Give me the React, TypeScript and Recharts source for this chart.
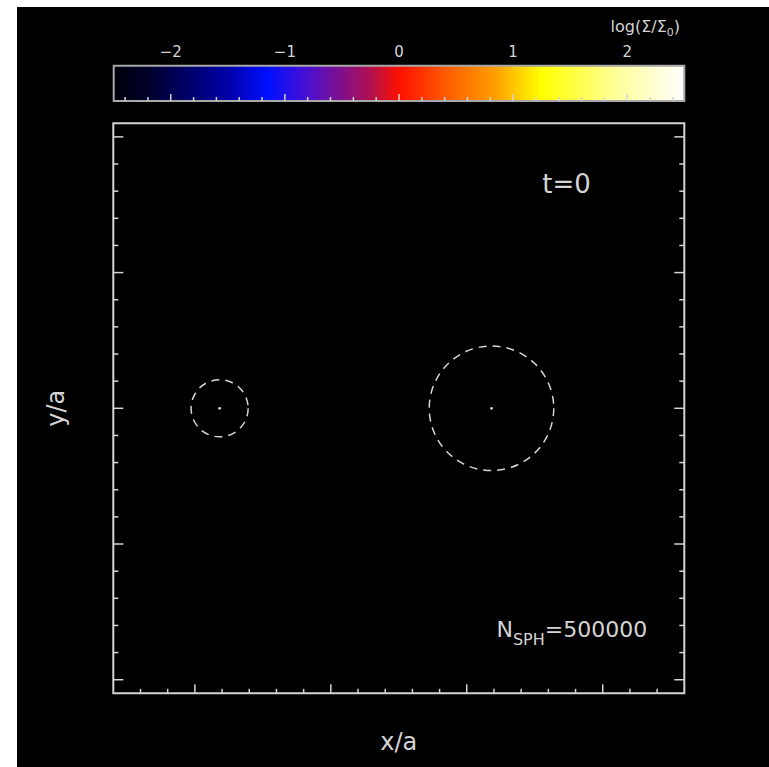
import {
  ScatterChart,
  Scatter,
  XAxis,
  YAxis,
  ReferenceArea,
  ReferenceDot,
} from "recharts";

// main panel (units of the binary separation a)
const X_DOMAIN = [-1.3, 0.8];
const Y_DOMAIN = [-1.05, 1.05];
const X_TICKS = [
  -1.2, -1.1, -1.0, -0.9, -0.8, -0.7, -0.6, -0.5, -0.4, -0.3, -0.2, -0.1, 0,
  0.1, 0.2, 0.3, 0.4, 0.5, 0.6, 0.7,
];
const Y_TICKS = [
  -1.0, -0.9, -0.8, -0.7, -0.6, -0.5, -0.4, -0.3, -0.2, -0.1, 0, 0.1, 0.2, 0.3,
  0.4, 0.5, 0.6, 0.7, 0.8, 0.9, 1.0,
];

// the two stars and their dashed lobes
const STAR_X = [-0.909, 0.0909];
const STAR_Y = [0, 0];
const LOBE_R = [0.105, 0.229];

// colour bar
const CBAR_DOMAIN = [-2.5, 2.5];
const CBAR_TICKS = [
  -2.4, -2.2, -2.0, -1.8, -1.6, -1.4, -1.2, -1.0, -0.8, -0.6, -0.4, -0.2, 0,
  0.2, 0.4, 0.6, 0.8, 1.0, 1.2, 1.4, 1.6, 1.8, 2.0, 2.2, 2.4,
];
const CBAR_LABELS = [-2, -1, 0, 1, 2];
const CMAP_VALUES = [
  -2.5, -2.2, -1.9, -1.5, -1.15, -0.8, -0.5, -0.25, 0, 0.5, 0.85, 1.25, 1.9,
  2.5,
];
const CMAP_COLORS = [
  "#000008",
  "#00002a",
  "#000060",
  "#0000a8",
  "#0010ff",
  "#4a10d0",
  "#80108a",
  "#b0104f",
  "#ff1000",
  "#ff6a00",
  "#ffa000",
  "#ffff00",
  "#ffff98",
  "#ffffff",
];

const TIME_LABEL = "t=0";
const N_SPH = "500000";

const FG = "#d4d4d4";
const FONT = "'DejaVu Sans', sans-serif";

const PAGE_W = 769;
const PAGE_H = 767;
const PLOT = { left: 113.3, top: 123.3, width: 571, height: 570 };
const CBAR = { left: 113.7, top: 65.7, width: 570.6, height: 35.3 };
const CBAR_H = 120;

const pxPerUnit = PLOT.width / (X_DOMAIN[1] - X_DOMAIN[0]);

const stars = STAR_X.map((x, i) => ({ x, y: STAR_Y[i], r: LOBE_R[i] }));
const cbarLabels = CBAR_LABELS.map((v) => ({ x: v, y: 1 }));

type Side = "top" | "bottom" | "left" | "right";

function edgeTick(side: Side, minorLen: number, majorLen: number, step: number) {
  return function EdgeTick(props: any) {
    const { x, y, payload } = props;
    const v = payload.value as number;
    const major = Math.abs(v / step - Math.round(v / step)) < 1e-6;
    const len = major ? majorLen : minorLen;
    const dx = side === "left" ? len : side === "right" ? -len : 0;
    const dy = side === "top" ? len : side === "bottom" ? -len : 0;
    return (
      <line
        x1={x}
        y1={y}
        x2={x + dx}
        y2={y + dy}
        stroke={FG}
        strokeWidth={1.5}
      />
    );
  };
}

function Star(props: any) {
  const { cx, cy, payload } = props;
  return (
    <g>
      <circle
        cx={cx}
        cy={cy}
        r={payload.r * pxPerUnit}
        fill="none"
        stroke={FG}
        strokeWidth={1.5}
        strokeDasharray="8 6"
      />
      <circle cx={cx} cy={cy} r={1.4} fill={FG} />
    </g>
  );
}

// the colour bar labels sit above the bar, one per integer value
function CbarLabel(props: any) {
  const { cx, cy, payload } = props;
  const v = payload.x as number;
  return (
    <text
      x={cx}
      y={cy - 9}
      textAnchor="middle"
      fill={FG}
      fontSize={15}
      fontFamily={FONT}
    >
      {v < 0 ? "\u2212" + Math.abs(v) : String(v)}
    </text>
  );
}

const textProps = {
  fill: FG,
  fontFamily: FONT,
};

const hAxis = {
  type: "number" as const,
  interval: 0 as const,
  height: 1,
  tickSize: 0,
  tickMargin: 0,
  axisLine: false,
  tickLine: false,
};
const vAxis = {
  type: "number" as const,
  allowDataOverflow: true,
  interval: 0 as const,
  width: 1,
  tickSize: 0,
  tickMargin: 0,
  axisLine: false,
  tickLine: false,
};

export default function App() {
  return (
    <div
      style={{
        position: "absolute",
        left: 0,
        top: 0,
        width: PAGE_W,
        height: PAGE_H,
        background: "#fff",
        overflow: "hidden",
      }}
    >
      <div
        style={{
          position: "absolute",
          left: 17,
          top: 7,
          width: PAGE_W - 17,
          height: PAGE_H - 7,
          background: "#000",
        }}
      />

      {/* main panel */}
      <div style={{ position: "absolute", left: 0, top: 0 }}>
        <ScatterChart
          width={PAGE_W}
          height={PAGE_H}
          margin={{
            top: PLOT.top - 1,
            left: PLOT.left - 1,
            right: PAGE_W - PLOT.left - PLOT.width - 1,
            bottom: PAGE_H - PLOT.top - PLOT.height - 1,
          }}
        >
          <XAxis
            {...hAxis}
            allowDataOverflow
            dataKey="x"
            domain={X_DOMAIN}
            ticks={X_TICKS}
            tick={edgeTick("bottom", 4.5, 9, 0.5)}
          />
          <XAxis
            {...hAxis}
            allowDataOverflow
            xAxisId="top"
            orientation="top"
            domain={X_DOMAIN}
            ticks={X_TICKS}
            tick={edgeTick("top", 4.5, 9, 0.5)}
          />
          <YAxis
            {...vAxis}
            dataKey="y"
            domain={Y_DOMAIN}
            ticks={Y_TICKS}
            tick={edgeTick("left", 5, 10, 0.5)}
          />
          <YAxis
            {...vAxis}
            yAxisId="right"
            orientation="right"
            domain={Y_DOMAIN}
            ticks={Y_TICKS}
            tick={edgeTick("right", 5, 10, 0.5)}
          />
          <ReferenceArea
            x1={X_DOMAIN[0]}
            x2={X_DOMAIN[1]}
            y1={Y_DOMAIN[0]}
            y2={Y_DOMAIN[1]}
            fill="none"
            stroke={FG}
            strokeWidth={2}
          />
          <Scatter data={stars} shape={Star} isAnimationActive={false} />

          <ReferenceDot
            x={0.278}
            y={0.792}
            r={0}
            ifOverflow="visible"
            shape={(p: any) => (
              <text x={p.cx} y={p.cy} fontSize={26} {...textProps}>
                {TIME_LABEL}
              </text>
            )}
          />
          <ReferenceDot
            x={0.109}
            y={-0.843}
            r={0}
            ifOverflow="visible"
            shape={(p: any) => (
              <text x={p.cx} y={p.cy} fontSize={22} {...textProps}>
                N
                <tspan dy={8} fontSize={16}>
                  SPH
                </tspan>
                <tspan dy={-8}>={N_SPH}</tspan>
              </text>
            )}
          />
          <ReferenceDot
            x={-0.25}
            y={-1.231}
            r={0}
            ifOverflow="visible"
            shape={(p: any) => (
              <text
                x={p.cx}
                y={p.cy}
                fontSize={24}
                textAnchor="middle"
                dominantBaseline="central"
                {...textProps}
              >
                x/a
              </text>
            )}
          />
          <ReferenceDot
            x={-1.5105}
            y={0}
            r={0}
            ifOverflow="visible"
            shape={(p: any) => (
              <text
                x={p.cx}
                y={p.cy}
                fontSize={24}
                textAnchor="middle"
                dominantBaseline="central"
                transform={`rotate(-90 ${p.cx} ${p.cy})`}
                {...textProps}
              >
                y/a
              </text>
            )}
          />
        </ScatterChart>
      </div>

      {/* colour bar */}
      <div style={{ position: "absolute", left: 0, top: 0 }}>
        <ScatterChart
          width={PAGE_W}
          height={CBAR_H}
          margin={{
            top: CBAR.top - 1,
            left: CBAR.left,
            right: PAGE_W - CBAR.left - CBAR.width,
            bottom: CBAR_H - CBAR.top - CBAR.height - 1,
          }}
        >
          <defs>
            <linearGradient id="cmap" x1="0" y1="0" x2="1" y2="0">
              {CMAP_VALUES.map((v, i) => (
                <stop
                  key={i}
                  offset={(v - CBAR_DOMAIN[0]) / (CBAR_DOMAIN[1] - CBAR_DOMAIN[0])}
                  stopColor={CMAP_COLORS[i]}
                />
              ))}
            </linearGradient>
          </defs>
          <ReferenceArea
            x1={CBAR_DOMAIN[0]}
            x2={CBAR_DOMAIN[1]}
            y1={0}
            y2={1}
            fill="url(#cmap)"
            fillOpacity={1}
            stroke="#a8a8a8"
            strokeWidth={2}
          />
          <XAxis
            {...hAxis}
            dataKey="x"
            domain={CBAR_DOMAIN}
            ticks={CBAR_TICKS}
            tick={edgeTick("bottom", 4, 7, 1)}
          />
          <XAxis
            {...hAxis}
            xAxisId="top"
            orientation="top"
            domain={CBAR_DOMAIN}
            ticks={CBAR_TICKS}
            tick={edgeTick("top", 4, 7, 1)}
          />
          <YAxis type="number" dataKey="y" domain={[0, 1]} hide />
          <Scatter
            data={cbarLabels}
            shape={CbarLabel}
            isAnimationActive={false}
          />
          <ReferenceDot
            x={1.854}
            y={1.955}
            r={0}
            ifOverflow="visible"
            shape={(p: any) => (
              <text x={p.cx} y={p.cy} fontSize={16} {...textProps}>
                log(Σ/Σ
                <tspan dy={4} fontSize={11}>
                  0
                </tspan>
                <tspan dy={-4}>)</tspan>
              </text>
            )}
          />
        </ScatterChart>
      </div>
    </div>
  );
}
